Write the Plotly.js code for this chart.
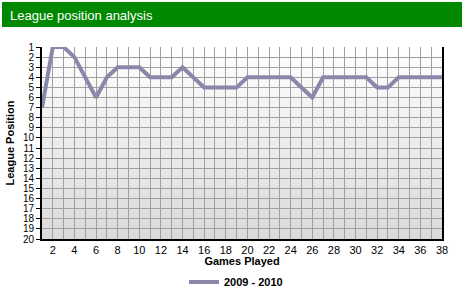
<!DOCTYPE html>
<html>
<head>
<meta charset="utf-8">
<script src="https://cdn.plot.ly/plotly-3.0.1.min.js"></script>
<style>html,body{margin:0;padding:0;background:#fff;}#chart{width:463px;height:291px;}</style>
</head>
<body>
<div id="chart"></div>
<script>
const games = [1,2,3,4,5,6,7,8,9,10,11,12,13,14,15,16,17,18,19,20,21,22,23,24,25,26,27,28,29,30,31,32,33,34,35,36,37,38];
const positions = [7,1,1,2,4,6,4,3,3,3,4,4,4,3,4,5,5,5,5,4,4,4,4,4,5,6,4,4,4,4,4,5,5,4,4,4,4,4];
const seriesName = "2009 - 2010";
const yTicks = [1,2,3,4,5,6,7,8,9,10,11,12,13,14,15,16,17,18,19,20];
const xTickText = games.map(g => (g % 2 === 0 ? String(g) : ""));

const grad = 'data:image/svg+xml;utf8,' + encodeURIComponent(
 '<svg xmlns="http://www.w3.org/2000/svg" width="10" height="100" preserveAspectRatio="none"><defs><linearGradient id="g" x1="0" y1="0" x2="0" y2="1"><stop offset="0" stop-color="#ffffff"/><stop offset="1" stop-color="#dadada"/></linearGradient></defs><rect width="10" height="100" fill="url(#g)"/></svg>');

const F = "Liberation Sans, Arial, sans-serif";
const layout = {
  width: 463, height: 291,
  margin: {l: 42, r: 21, t: 47, b: 52, autoexpand: false},
  paper_bgcolor: "#ffffff",
  plot_bgcolor: "rgba(0,0,0,0)",
  font: {family: F, size: 10, color: "#000"},
  title: {text: "League position analysis", font: {family: F, size: 13, color: "#ffffff"},
          x: 10/463, xref: "container", xanchor: "left", y: 1 - 15/291, yref: "container", yanchor: "middle",
          automargin: false},
  shapes: [{type: "rect", xref: "paper", yref: "paper", x0: -0.1, x1: 1.05, y0: (239-27)/192, y1: (239-2)/192,
            fillcolor: "#008800", line: {width: 0}, layer: "below"}],
  images: [{source: grad, xref: "paper", yref: "paper", x: 0, y: 1, sizex: 1, sizey: 1,
            xanchor: "left", yanchor: "top", sizing: "stretch", layer: "below"}],
  xaxis: {range: [1, 38], tickvals: games, ticktext: xTickText, ticks: "", showgrid: true, automargin: false,
          gridcolor: "#a0a0a0", gridwidth: 1, showline: true, linecolor: "#000", linewidth: 2,
          zeroline: false, tickfont: {size: 11, family: F},
          title: {text: "Games Played", font: {size: 11, family: F, weight: "bold"}, standoff: 5}},
  yaxis: {range: [20, 1], tickvals: yTicks, ticks: "outside", ticklen: 4, tickcolor: "#000", tickwidth: 1,
          automargin: false,
          showgrid: true, gridcolor: "#a0a0a0", gridwidth: 1, showline: true, mirror: true,
          linecolor: "#000", linewidth: 2, zeroline: false, tickfont: {size: 10, family: F},
          title: {text: "League Position", font: {size: 11, family: F, weight: "bold"}, standoff: 6}},
  showlegend: true,
  legend: {orientation: "h", x: 0.485, xanchor: "center", yref: "container", y: 1 - 282/291, yanchor: "middle",
           font: {size: 11, family: F, weight: "bold"}, bgcolor: "rgba(0,0,0,0)"}
};

Plotly.newPlot("chart", [{
  x: games, y: positions, name: seriesName, type: "scatter", mode: "lines",
  line: {color: "#8a88aa", width: 4}, cliponaxis: false
}], layout, {displayModeBar: false, staticPlot: true});
</script>
</body>
</html>
